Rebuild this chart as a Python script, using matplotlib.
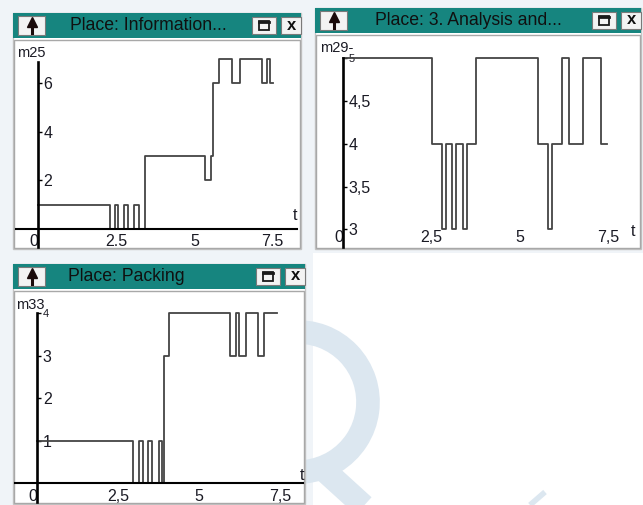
import matplotlib.pyplot as plt
from matplotlib.patches import Rectangle, Arc

W, H = 643, 505

# маркировка мест во времени (ступенчатые графики)
info_t = [0, 2.30, 2.46, 2.57, 2.75, 2.86, 3.08, 3.23, 3.42, 5.34, 5.52, 5.60, 5.79,
          6.21, 6.45, 7.15, 7.33, 7.41, 7.52]
info_m = [1, 0, 1, 0, 1, 0, 1, 0, 3, 2, 3, 6, 7, 6, 7, 6, 7, 6, 6]

ana_t = [0, 2.51, 2.79, 2.90, 3.08, 3.19, 3.38, 3.50, 3.76, 5.52, 5.80, 5.91, 6.19,
         6.40, 6.78, 7.30, 7.47]
ana_m = [5, 4, 3, 4, 3, 4, 3, 4, 5, 4, 3, 4, 5, 4, 5, 4, 4]

pack_t = [0, 2.96, 3.15, 3.25, 3.43, 3.55, 3.75, 3.85, 3.92, 4.07, 5.95, 6.13, 6.23,
          6.44, 6.82, 7.01, 7.39]
pack_m = [1, 0, 1, 0, 1, 0, 1, 0, 3, 4, 3, 4, 3, 4, 3, 4, 4]

xticks = [0, 2.5, 5, 7.5]
info_xlabels = ['0', '2.5', '5', '7.5']
ana_xlabels = ['0', '2,5', '5', '7,5']
pack_xlabels = ['0', '2,5', '5', '7,5']
info_yticks = [2, 4, 6]
ana_yticks = [3, 3.5, 4, 4.5, 5]
ana_ylabels = ['3', '3,5', '4', '4,5', '5']
pack_yticks = [1, 2, 3, 4]

TEAL = '#16857f'
LIGHT = '#f0f4f8'
WMARK = '#dce7f0'
TXT = '#1a1a24'

plt.rcParams['font.family'] = ['Liberation Sans', 'DejaVu Sans']

fig = plt.figure(figsize=(W / 100, H / 100), dpi=100)
bg = fig.add_axes([0, 0, 1, 1])
bg.set_xlim(0, W)
bg.set_ylim(H, 0)
bg.axis('off')

# фон скриншота
bg.add_patch(Rectangle((0, 0), W, 253, fc=LIGHT, ec='none', zorder=0))
bg.add_patch(Rectangle((0, 0), 313, H, fc=LIGHT, ec='none', zorder=0))

# водяной знак
bg.add_patch(Arc((298, 402), 140, 140, theta1=-95, theta2=110, color=WMARK, lw=17, zorder=1))
bg.plot([324, 368], [470, 510], color=WMARK, lw=17, solid_capstyle='butt', zorder=1)
bg.plot([530, 545], [505, 492], color=WMARK, lw=4, solid_capstyle='butt', zorder=1)


def window(x0, y0, x1, y1, title, tx):
    bg.add_patch(Rectangle((x0, y0), x1 - x0, y1 - y0, fc='white', ec='#c4c4c4', lw=1, zorder=2))
    bg.add_patch(Rectangle((x0, y0), x1 - x0, 25, fc=TEAL, ec='none', zorder=3))
    # кнопка со стрелкой
    bg.add_patch(Rectangle((x0 + 5, y0 + 3), 27, 19, fc='#f3f3f3', ec='#7a7a7a', lw=0.8, zorder=4))
    bg.plot([x0 + 18.5, x0 + 18.5], [y0 + 10, y0 + 20], color='#1a0a0a', lw=2.2, zorder=5)
    bg.plot([x0 + 18.5], [y0 + 9], marker='^', ms=7, color='#1a0a0a', zorder=5)
    bg.text(tx, y0 + 12.5, title, fontsize=12.7, ha='left', va='center', color='#101010', zorder=5)
    # кнопки окна
    rx = x1 - 49
    bg.add_patch(Rectangle((rx, y0 + 4), 24, 17, fc='#f3f3f3', ec='#7a7a7a', lw=0.8, zorder=4))
    bg.add_patch(Rectangle((rx + 7, y0 + 8), 10, 9, fc='none', ec='#1a1a1a', lw=1.3, zorder=5))
    bg.plot([rx + 7, rx + 17], [y0 + 8.6, y0 + 8.6], color='#1a1a1a', lw=2, zorder=5)
    bg.add_patch(Rectangle((x1 - 20, y0 + 4), 20, 17, fc='#f3f3f3', ec='#7a7a7a', lw=0.8, zorder=4))
    bg.text(x1 - 9, y0 + 12, 'x', fontsize=12, fontweight='bold', ha='center', va='center',
            color='#101010', zorder=5)
    # рамка области графика
    bg.add_patch(Rectangle((x0 + 1, y0 + 27), x1 - x0 - 2, y1 - y0 - 28, fc='white',
                           ec='#a8a8a8', lw=1, zorder=3))


window(13, 13, 301, 249, 'Place: Information...', 70)
window(315, 8, 641, 249, 'Place: 3. Analysis and...', 375)
window(13, 264, 305, 504, 'Place: Packing', 68)


def chart(box, zero, scale, t, m, yticks, ylabels, xlabels, base, xpad, show_xaxis=True):
    x0, y0, x1, y1 = box
    zx, zy = zero
    sx, sy = scale
    ax = fig.add_axes([x0 / W, 1 - y1 / H, (x1 - x0) / W, (y1 - y0) / H])
    ax.set_facecolor('none')
    ax.set_xlim((x0 - zx) / sx, (x1 - zx) / sx)
    ax.set_ylim(base - (y1 - zy) / sy, base + (zy - y0) / sy)
    ax.step(t, m, where='post', color='#444444', lw=1.3, clip_on=False)
    ax.spines['left'].set_position(('data', 0))
    ax.spines['bottom'].set_position(('data', base))
    ax.spines['left'].set_linewidth(1.9)
    ax.spines['bottom'].set_linewidth(1.5)
    ax.spines['bottom'].set_visible(show_xaxis)
    ax.spines['right'].set_visible(False)
    ax.spines['top'].set_visible(False)
    ax.set_xticks(xticks, xlabels)
    ax.set_yticks(yticks, ylabels if ylabels else [str(v) for v in yticks])
    ax.tick_params(axis='x', length=0, pad=xpad, labelsize=11.5, labelcolor=TXT)
    ax.tick_params(axis='y', direction='in', length=3, width=1, pad=-4,
                   labelsize=11.5, labelcolor=TXT)
    for lbl in ax.get_yticklabels():
        lbl.set_horizontalalignment('left')
    ax.get_xticklabels()[0].set_horizontalalignment('right')
    return ax


ax1 = chart((16, 62, 297, 247), (38, 229), (31.3, 24.3), info_t, info_m,
            info_yticks, None, info_xlabels, 0, 3.5)
ax2 = chart((316, 58, 638, 247), (343.3, 229), (35.3, 88), ana_t, ana_m,
            ana_yticks, ana_ylabels, ana_xlabels, 3, 0.3, show_xaxis=False)
ax2.get_yticklabels()[-1].set_fontsize(8)
ax3 = chart((15, 313, 303, 502), (37.3, 483), (32.4, 43.5), pack_t, pack_m,
            pack_yticks, None, pack_xlabels, 0, 4)
ax3.get_yticklabels()[-1].set_fontsize(8)

# подписи осей
bg.text(17, 53, 'm25', fontsize=10.5, ha='left', va='center', color=TXT, zorder=6)
bg.text(295, 216, 't', fontsize=11.5, ha='center', va='center', color=TXT, zorder=6)
bg.text(320, 48, 'm29-', fontsize=10.5, ha='left', va='center', color=TXT, zorder=6)
bg.text(633, 232, 't', fontsize=11.5, ha='center', va='center', color=TXT, zorder=6)
bg.text(16, 305, 'm33', fontsize=10.5, ha='left', va='center', color=TXT, zorder=6)
bg.text(302, 475, 't', fontsize=11.5, ha='center', va='center', color=TXT, zorder=6)

fig.savefig('out.png', dpi=100)
